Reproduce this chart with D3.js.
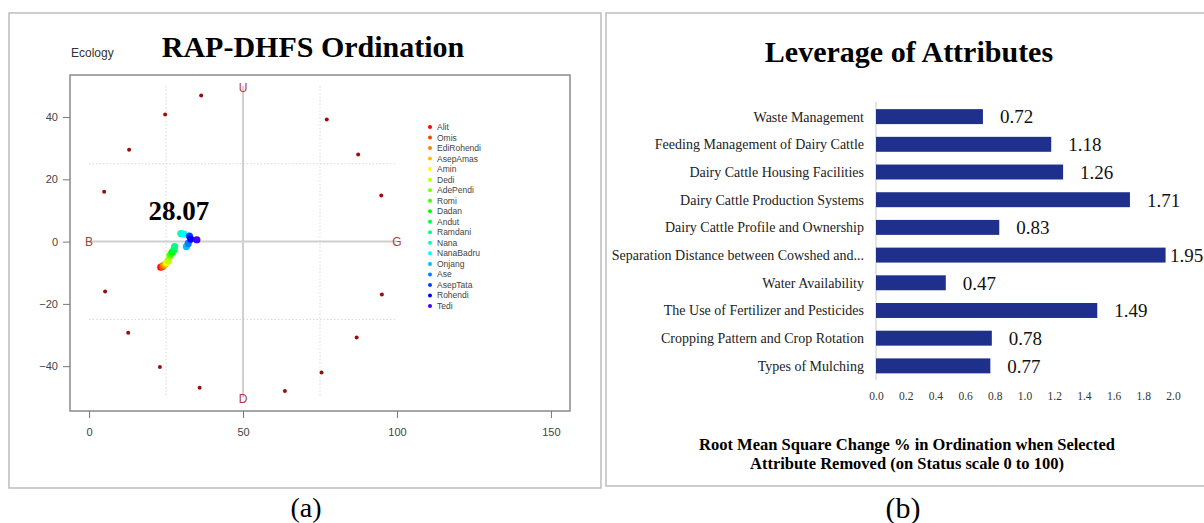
<!DOCTYPE html>
<html>
<head>
<meta charset="utf-8">
<script src="https://cdn.jsdelivr.net/npm/d3@7"></script>
<style>
  body { margin: 0; background: #fff; }
  svg { display: block; }
</style>
</head>
<body>
<svg id="chart" width="1204" height="523"></svg>
<script>
// ---- data: ordination (a) ----
const farmers = ["Alit", "Omis", "EdiRohendi", "AsepAmas", "Amin", "Dedi", "AdePendi", "Romi", "Dadan",
  "Andut", "Ramdani", "Nana", "NanaBadru", "Onjang", "Ase", "AsepTata", "Rohendi", "Tedi"];
const farmerX = [23.3, 23.8, 24.2, 24.8, 25.2, 25.6, 26.2, 26.6, 27.0, 27.6, 27.8, 29.8, 30.8, 31.6, 32.2, 32.6, 33.0, 35.0];
const farmerY = [-8.2, -8.0, -7.6, -7.2, -6.8, -6.2, -4.6, -4.0, -3.4, -2.6, -1.6, 2.6, 2.4, -1.6, -0.6, 1.8, 0.8, 0.6];
const anchorX = [36.4, 24.7, 13.0, 4.9, 5.2, 12.7, 23.0, 35.9, 63.6, 75.5, 86.9, 95.1, 94.9, 87.4, 77.2];
const anchorY = [46.9, 40.8, 29.5, 16.0, -16.0, -29.3, -40.3, -46.9, -48.0, -42.0, -30.8, -17.0, 14.8, 28.0, 39.2];
const ordXTicks = [0, 50, 100, 150];
const ordYTicks = [-40, -20, 0, 20, 40];
const statusScore = "28.07";

// ---- data: leverage (b) ----
const attributes = ["Waste Management", "Feeding Management of Dairy Cattle", "Dairy Cattle Housing Facilities",
  "Dairy Cattle Production Systems", "Dairy Cattle Profile and Ownership", "Separation Distance between Cowshed and...",
  "Water Availability", "The Use of Fertilizer and Pesticides", "Cropping Pattern and Crop Rotation", "Types of Mulching"];
const leverage = [0.72, 1.18, 1.26, 1.71, 0.83, 1.95, 0.47, 1.49, 0.78, 0.77];
const leverageTicks = [0, 0.2, 0.4, 0.6, 0.8, 1.0, 1.2, 1.4, 1.6, 1.8, 2.0];

const serif = "'Liberation Serif', 'Times New Roman', serif";
const sans = "'Liberation Sans', Arial, sans-serif";

const svg = d3.select("#chart");

// panel frames
svg.append("rect").attr("x", 9).attr("y", 13).attr("width", 592).attr("height", 475)
  .attr("fill", "none").attr("stroke", "#bdbdbd").attr("stroke-width", 1.5);
svg.append("rect").attr("x", 606).attr("y", 13).attr("width", 610).attr("height", 473)
  .attr("fill", "none").attr("stroke", "#bdbdbd").attr("stroke-width", 1.5);

// =================== (a) RAP-DHFS Ordination ===================
const xScale = d3.scaleLinear().domain([-6.2, 156.2]).range([70, 570]);
const yScale = d3.scaleLinear().domain([-54.4, 53.5]).range([411, 75]);

const left = svg.append("g");

left.append("text").attr("x", 313).attr("y", 57).attr("text-anchor", "middle")
  .style("font-family", serif).style("font-weight", "bold").style("font-size", "30px")
  .text("RAP-DHFS Ordination");
left.append("text").attr("x", 71).attr("y", 57)
  .style("font-family", sans).style("font-size", "12px").attr("fill", "#333")
  .text("Ecology");

// reference lines: dotted quarter lines, solid centre cross
const dotted = { stroke: "#d8d8d8", dash: "1.5,2" };
[25, 75].forEach(v => {
  left.append("line").attr("x1", xScale(v)).attr("x2", xScale(v)).attr("y1", yScale(50)).attr("y2", yScale(-50))
    .attr("stroke", dotted.stroke).attr("stroke-dasharray", dotted.dash);
});
[25, -25].forEach(v => {
  left.append("line").attr("x1", xScale(0)).attr("x2", xScale(100)).attr("y1", yScale(v)).attr("y2", yScale(v))
    .attr("stroke", dotted.stroke).attr("stroke-dasharray", dotted.dash);
});
left.append("line").attr("x1", xScale(50)).attr("x2", xScale(50)).attr("y1", yScale(50)).attr("y2", yScale(-50))
  .attr("stroke", "#cfcfcf").attr("stroke-width", 2);
left.append("line").attr("x1", xScale(0)).attr("x2", xScale(100)).attr("y1", yScale(0)).attr("y2", yScale(0))
  .attr("stroke", "#cfcfcf").attr("stroke-width", 2);

// plot box
left.append("rect").attr("x", 70).attr("y", 75).attr("width", 500).attr("height", 336)
  .attr("fill", "none").attr("stroke", "#8a8a8a").attr("stroke-width", 1.5);

// axes
const xAxis = left.append("g").attr("transform", "translate(0,411)")
  .call(d3.axisBottom(xScale).tickValues(ordXTicks).tickSize(7).tickPadding(10));
const yAxis = left.append("g").attr("transform", "translate(70,0)")
  .call(d3.axisLeft(yScale).tickValues(ordYTicks).tickSize(7).tickPadding(5));
[xAxis, yAxis].forEach(a => {
  a.select(".domain").remove();
  a.selectAll("line").attr("stroke", "#777");
  a.selectAll("text").style("font-family", sans).style("font-size", "11px").attr("fill", "#444");
});

// anchor labels
const anchorLabels = [["U", 50, 50, 6], ["D", 50, -50, 6], ["B", 0, 0, 4], ["G", 100, 0, 4]];
left.selectAll(".anchor-label").data(anchorLabels).join("text")
  .attr("x", d => xScale(d[1])).attr("y", d => yScale(d[2]) + d[3])
  .attr("text-anchor", "middle").attr("fill", "#b03a3a")
  .style("font-family", sans).style("font-size", "12px")
  .text(d => d[0]);

// anchor points
left.selectAll(".anchor").data(anchorX).join("circle")
  .attr("cx", d => xScale(d)).attr("cy", (d, i) => yScale(anchorY[i]))
  .attr("r", 2).attr("fill", "#9b0d0d");

// farmer points (rainbow)
const colour = i => d3.hsl(i * 255 / (farmers.length - 1), 1, 0.5).toString();
left.selectAll(".farmer").data(farmers).join("circle")
  .attr("cx", (d, i) => xScale(farmerX[i])).attr("cy", (d, i) => yScale(farmerY[i]))
  .attr("r", 3.6).attr("fill", (d, i) => colour(i));

left.append("text").attr("x", xScale(29.2)).attr("y", yScale(6.9)).attr("text-anchor", "middle")
  .style("font-family", serif).style("font-weight", "bold").style("font-size", "27px")
  .text(statusScore);

// legend
const legend = left.append("g").attr("transform", "translate(430,127)");
legend.selectAll("circle").data(farmers).join("circle")
  .attr("cx", 0).attr("cy", (d, i) => i * 10.53).attr("r", 2).attr("fill", (d, i) => colour(i));
legend.selectAll("text").data(farmers).join("text")
  .attr("x", 7).attr("y", (d, i) => i * 10.53).attr("dy", "0.35em")
  .style("font-family", sans).style("font-size", "8.5px").attr("fill", "#444")
  .text(d => d);

left.append("text").attr("x", 306).attr("y", 517).attr("text-anchor", "middle")
  .style("font-family", serif).style("font-size", "28px").text("(a)");

// =================== (b) Leverage of Attributes ===================
const lx = d3.scaleLinear().domain([0, 2.0]).range([876, 1173]);
const ly = d3.scaleBand().domain(attributes).range([102.5, 380]).paddingInner(0.46).paddingOuter(0.24);

const right = svg.append("g");

right.append("text").attr("x", 909).attr("y", 62).attr("text-anchor", "middle")
  .style("font-family", serif).style("font-weight", "bold").style("font-size", "30px")
  .text("Leverage of Attributes");

right.append("line").attr("x1", lx(0)).attr("x2", lx(0)).attr("y1", 102).attr("y2", 380)
  .attr("stroke", "#c8c8c8");

right.selectAll(".bar").data(leverage).join("rect")
  .attr("x", lx(0)).attr("y", (d, i) => ly(attributes[i]))
  .attr("width", d => lx(d) - lx(0)).attr("height", ly.bandwidth())
  .attr("fill", "#1f2f8c");

// value labels sit 17px past the bar end, pulled in when they would leave the panel
right.selectAll(".val").data(leverage).join("text")
  .attr("x", d => Math.min(lx(d) + 17, 1170)).attr("y", (d, i) => ly(attributes[i]) + ly.bandwidth() / 2)
  .attr("dy", "0.36em").style("font-family", serif).style("font-size", "19px").attr("fill", "#111")
  .text(d => d.toFixed(2));

right.selectAll(".cat").data(attributes).join("text")
  .attr("x", 864).attr("y", d => ly(d) + ly.bandwidth() / 2).attr("dy", "0.35em")
  .attr("text-anchor", "end").style("font-family", serif).style("font-size", "14px").attr("fill", "#222")
  .text(d => d);

const bAxis = right.append("g").attr("transform", "translate(0,388)")
  .call(d3.axisBottom(lx).tickValues(leverageTicks).tickSize(0).tickPadding(4).tickFormat(d3.format(".1f")));
bAxis.select(".domain").remove();
bAxis.selectAll("text").style("font-family", serif).style("font-size", "11.5px").attr("fill", "#333");

const axisTitle = ["Root Mean Square Change % in Ordination when Selected", "Attribute Removed (on Status scale 0 to 100)"];
right.selectAll(".atitle").data(axisTitle).join("text")
  .attr("x", 907).attr("y", (d, i) => 450 + i * 19).attr("text-anchor", "middle")
  .style("font-family", serif).style("font-weight", "bold").style("font-size", "16.5px")
  .text(d => d);

right.append("text").attr("x", 903).attr("y", 518).attr("text-anchor", "middle")
  .style("font-family", serif).style("font-size", "30px").text("(b)");
</script>
</body>
</html>
